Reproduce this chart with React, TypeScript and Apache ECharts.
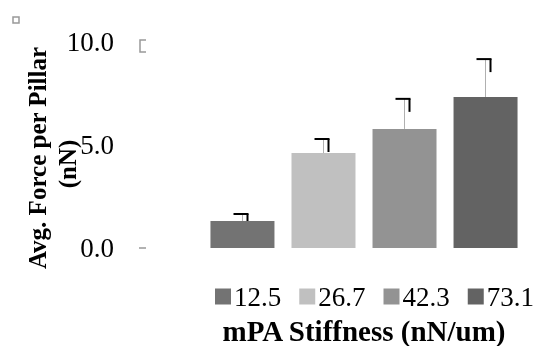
import React, { useEffect, useRef } from "react";
import * as echarts from "echarts";

const categories = [""];
const stiffness = ["12.5", "26.7", "42.3", "73.1"];
const avgForce = [1.31, 4.61, 5.78, 7.33];
const forceError = [0.34, 0.68, 1.46, 1.84];
const barColors = ["#737373", "#c0c0c0", "#939393", "#636363"];
const yTicks = [0, 5, 10];

const FONT = '"Liberation Serif", serif';
const BAR_W = 64;
const BAR_STEP = 81;

export default function App() {
  const ref = useRef<HTMLDivElement>(null);
  useEffect(() => {
    if (!ref.current) return;
    const chart = echarts.init(ref.current, null, { renderer: "svg" });
    const barSeries = stiffness.map((name, i) => ({
      name,
      type: "bar",
      data: [avgForce[i]],
      barWidth: BAR_W,
      barGap: ((BAR_STEP - BAR_W) / BAR_W * 100).toFixed(1) + "%",
      itemStyle: { color: barColors[i] },
    }));
    const errSeries = {
      type: "custom",
      name: "err",
      data: stiffness.map((_, i) => [0, avgForce[i], forceError[i], i]),
      z: 5,
      renderItem: (params: any, api: any) => {
        const v = api.value(1);
        const e = api.value(2);
        const i = api.value(3);
        const base = api.coord([0, v]);
        const top = api.coord([0, v + e]);
        const cx = base[0] + (i - 1.5) * BAR_STEP;
        const yb = base[1];
        const yt = top[1];
        const drop = Math.min(13, yb - yt);
        return {
          type: "group",
          children: [
            { type: "line", shape: { x1: cx, y1: yb, x2: cx, y2: yt }, style: { stroke: "#b0b0b0", lineWidth: 1 } },
            { type: "line", shape: { x1: cx - 9, y1: yt, x2: cx + 6, y2: yt }, style: { stroke: "#000", lineWidth: 2 } },
            { type: "line", shape: { x1: cx + 5, y1: yt, x2: cx + 5, y2: yt + drop }, style: { stroke: "#000", lineWidth: 2 } },
          ],
        };
      },
    };
    chart.setOption({
      animation: false,
      grid: { left: 200, right: 6, top: 42, bottom: 98 },
      legend: {
        data: stiffness,
        left: 215,
        top: 283,
        width: 400,
        padding: 0,
        itemWidth: 16,
        itemHeight: 16,
        itemGap: 18,
        icon: "rect",
        textStyle: { fontFamily: FONT, fontSize: 27, color: "#000", padding: [0, 0, 0, -2] },
      },
      xAxis: {
        type: "category",
        data: categories,
        axisLine: { show: false },
        axisTick: { show: false },
        axisLabel: { show: false },
      },
      yAxis: {
        type: "value",
        min: yTicks[0],
        max: yTicks[yTicks.length - 1],
        interval: 5,
        axisLine: { show: false },
        axisTick: { show: false },
        splitLine: { show: false },
        axisLabel: {
          margin: 86,
          fontFamily: FONT,
          fontSize: 27,
          color: "#000",
          formatter: (v: number) => v.toFixed(1),
        },
      },
      graphic: [
        { type: "rect", shape: { x: 13, y: 17, width: 6, height: 6 }, style: { fill: "none", stroke: "#999", lineWidth: 1.5 } },
        { type: "polyline", shape: { points: [[146, 40], [140, 40], [140, 52], [146, 52]] }, style: { fill: "none", stroke: "#999", lineWidth: 1.5 } },
        { type: "line", shape: { x1: 139, y1: 248, x2: 146, y2: 248 }, style: { stroke: "#999", lineWidth: 1.5 } },
        {
          type: "text",
          x: 37,
          y: 158,
          rotation: Math.PI / 2,
          style: { text: "Avg. Force per Pillar", font: `bold 25px ${FONT}`, fill: "#000", align: "center", verticalAlign: "middle" },
        },
        {
          type: "text",
          x: 67,
          y: 164,
          rotation: Math.PI / 2,
          style: { text: "(nN)", font: `bold 25px ${FONT}`, fill: "#000", align: "center", verticalAlign: "middle" },
        },
        {
          type: "text",
          x: 364,
          y: 331,
          style: { text: "mPA Stiffness (nN/um)", font: `bold 29px ${FONT}`, fill: "#000", align: "center", verticalAlign: "middle" },
        },
      ],
      series: [...barSeries, errSeries],
    });
    return () => chart.dispose();
  }, []);
  return <div ref={ref} style={{ width: 534, height: 346, position: "fixed", left: 0, top: 0 }} />;
}
